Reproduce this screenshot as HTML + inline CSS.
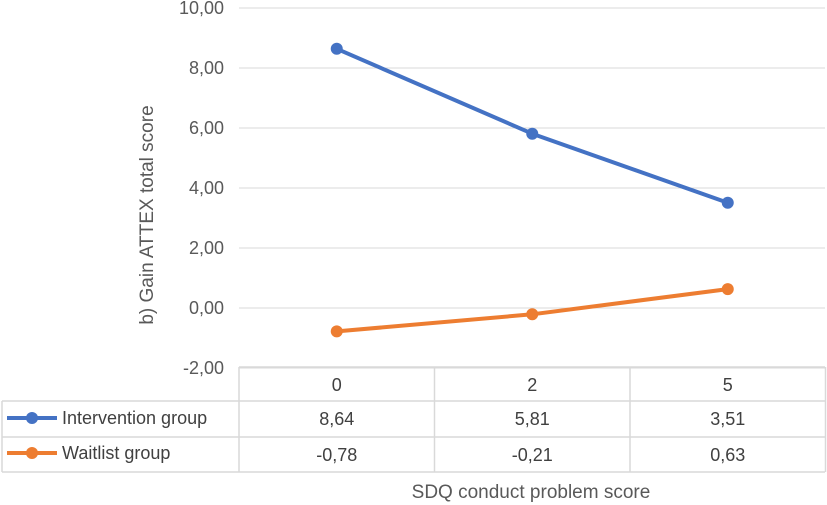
<!DOCTYPE html>
<html><head><meta charset="utf-8"><style>
body{margin:0;background:#fff}
svg{display:block;font-family:"Liberation Sans",Arial,sans-serif}
</style></head><body>
<svg id="c" width="827" height="505"></svg>
<script>
const categories=["0","2","5"];
const intervention=[8.64,5.81,3.51];
const waitlist=[-0.78,-0.21,0.63];
const interventionLabels=["8,64","5,81","3,51"];
const waitlistLabels=["-0,78","-0,21","0,63"];
const yTicks=[10,8,6,4,2,0,-2];
const yTickLabels=["10,00","8,00","6,00","4,00","2,00","0,00","-2,00"];
const svg=document.getElementById('c');const NS='http://www.w3.org/2000/svg';
function el(t,a,txt){const e=document.createElementNS(NS,t);for(const k in a)e.setAttribute(k,a[k]);if(txt!=null)e.textContent=txt;svg.appendChild(e);return e;}
const left=239,colW=195.5,yTop=8,unit=30;
const y=v=>yTop+(10-v)*unit;
const x=i=>left+colW*(i+0.5);
yTicks.forEach((v,i)=>{
 const g=el('line',{x1:left,x2:825,y1:y(v),y2:y(v),stroke:'#d9d9d9','stroke-width':1});
 
 const t=el('text',{x:224,y:y(v)+6,'text-anchor':'end','font-size':18,fill:'#595959'},yTickLabels[i]);
 
});
const at=el('text',{x:153,y:215,'text-anchor':'middle','font-size':19,fill:'#595959',transform:'rotate(-90 153 215)'},'b) Gain ATTEX total score');

const tb=[[left,367,825,367],[2,401,825,401],[2,437,825,437],[2,472,825,472],[2,401,2,472]];
for(let i=0;i<=3;i++)tb.push([left+colW*i,367,left+colW*i,472]);
tb.forEach(l=>{const e=el('line',{x1:l[0],y1:l[1],x2:l[2],y2:l[3],stroke:'#d9d9d9','stroke-width':1.5});
 });
categories.forEach((c,i)=>{
 const t=el('text',{x:x(i),y:391,'text-anchor':'middle','font-size':18,fill:'#404040'},c);
 
 const a=el('text',{x:x(i),y:425,'text-anchor':'middle','font-size':18,fill:'#404040'},interventionLabels[i]);
 
 const b=el('text',{x:x(i),y:461,'text-anchor':'middle','font-size':18,fill:'#404040'},waitlistLabels[i]);
 
});
function series(vals,color,name,ly,label){
 const p=el('polyline',{points:vals.map((v,i)=>x(i)+','+y(v)).join(' '),fill:'none',stroke:color,'stroke-width':4,'stroke-linejoin':'round'});
 
 vals.forEach((v,i)=>{const c=el('circle',{cx:x(i),cy:y(v),r:6,fill:color});
  });
 const l=el('line',{x1:7,x2:57,y1:ly,y2:ly,stroke:color,'stroke-width':4});
 
 const m=el('circle',{cx:32,cy:ly,r:6,fill:color});
 
 const t=el('text',{x:62,y:ly+6,'font-size':18,fill:'#404040'},label);
 
}
series(intervention,'#4472c4','intervention',418,'Intervention group');
series(waitlist,'#ed7d31','waitlist',453,'Waitlist group');
const xt=el('text',{x:531,y:498,'text-anchor':'middle','font-size':19,fill:'#595959'},'SDQ conduct problem score');

</script>
</body></html>
